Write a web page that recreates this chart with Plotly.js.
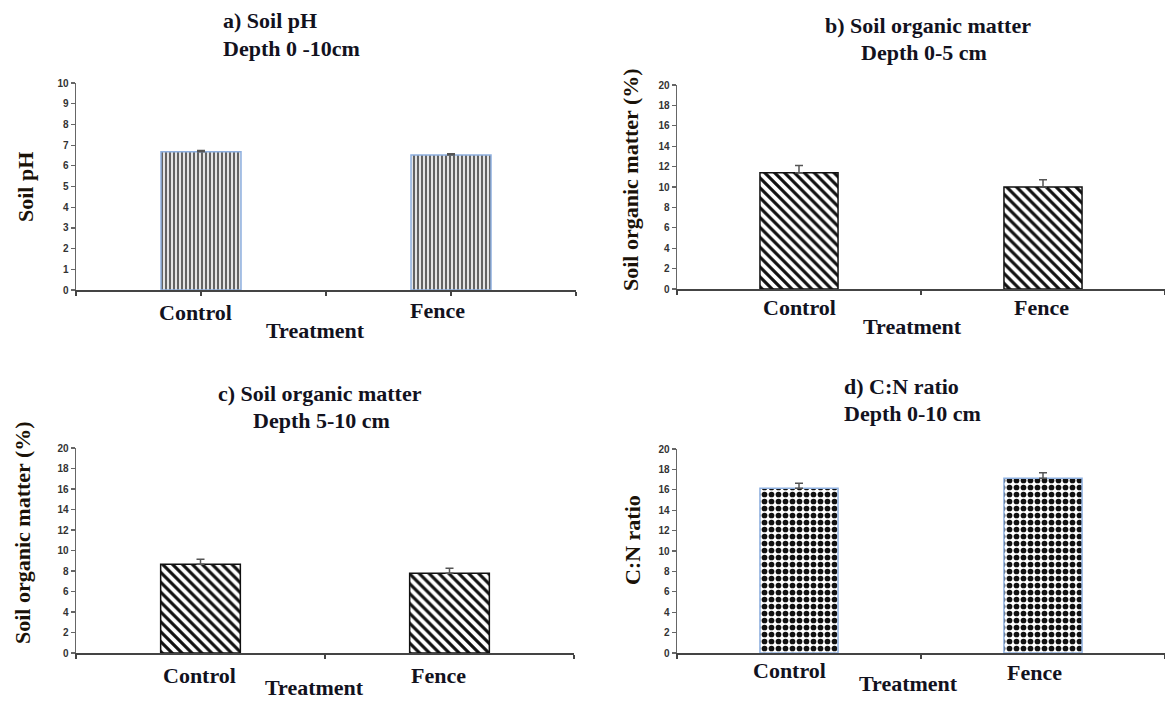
<!DOCTYPE html>
<html>
<head>
<meta charset="utf-8">
<script src="https://cdn.plot.ly/plotly-3.0.1.min.js"></script>
<style>html,body{margin:0;padding:0;background:#fff;}#chart{width:1165px;height:701px;}</style>
</head>
<body>
<div id="chart"></div>
<script>
// ---- data ----
const categories = ["Control", "Fence"];
const phValues = [6.68, 6.52];
const phErrors = [0.06, 0.06];
const som05Values = [11.4, 10.0];
const som05Errors = [0.7, 0.7];
const som510Values = [8.65, 7.78];
const som510Errors = [0.5, 0.5];
const cnValues = [16.15, 17.13];
const cnErrors = [0.5, 0.55];
const panelTitles = [
  ["a) Soil pH", "Depth 0 -10cm"],
  ["b) Soil organic matter", "Depth 0-5 cm"],
  ["c) Soil organic matter", "Depth 5-10 cm"],
  ["d) C:N ratio", "Depth 0-10 cm"]
];
const yTitles = ["Soil pH", "Soil organic matter (%)", "Soil organic matter (%)", "C:N ratio"];
const xTitle = "Treatment";

// ---- layout helpers ----
const W = 1165, H = 701;
const fx = p => p / W;
const fy = p => 1 - p / H;
const serif = "Liberation Serif, Times New Roman, serif";
const txtCol = "#12121e";
const catPos = categories.map((c, i) => i);

const panels = [
  {vals: phValues, errs: phErrors, ymax: 10, dtick: 1, x0: 76, x1: 576, ytop: 83, ybot: 290,
   pattern: {shape: "|", fgcolor: "#3a3a3a", bgcolor: "#e4e4e4", size: 4, solidity: 0.38},
   line: "#8eb0e0", xticks: [-0.5, 0, 0.5, 1, 1.5],
   title: {l1: [221, 20], l2: [221, 48], anchor: "left"},
   ytitle: [26, 187], labels: [[195, 312], [437, 310]], xt: [315, 330]},
  {vals: som05Values, errs: som05Errors, ymax: 20, dtick: 2, x0: 677, x1: 1165, ytop: 85, ybot: 289,
   pattern: {shape: "\\", fgcolor: "#111", bgcolor: "#fff", size: 7, solidity: 0.45},
   line: "#111", xticks: [-0.5, 0.5, 1.5],
   title: {l1: [928, 25], l2: [924, 53], anchor: "center"},
   ytitle: [630, 180], labels: [[799, 308], [1041, 307]], xt: [912, 326]},
  {vals: som510Values, errs: som510Errors, ymax: 20, dtick: 2, x0: 76, x1: 574, ytop: 448, ybot: 653,
   pattern: {shape: "\\", fgcolor: "#111", bgcolor: "#fff", size: 7, solidity: 0.45},
   line: "#111", xticks: [-0.5, 0.5, 1.5],
   title: {l1: [320, 393], l2: [321, 420], anchor: "center"},
   ytitle: [22, 533], labels: [[199, 675], [438, 675]], xt: [314, 687]},
  {vals: cnValues, errs: cnErrors, ymax: 20, dtick: 2, x0: 677, x1: 1165, ytop: 449, ybot: 653,
   pattern: {shape: ".", fgcolor: "#111", bgcolor: "#fff", size: 7, solidity: 0.52},
   line: "#8eb0e0", xticks: [-0.5, 0.5, 1.5],
   title: {l1: [842, 386], l2: [842, 413], anchor: "left"},
   ytitle: [632, 540], labels: [[789, 670], [1034, 672]], xt: [908, 683]}
];

const traces = [];
const layout = {
  width: W, height: H,
  margin: {l: 0, r: 0, t: 0, b: 0},
  paper_bgcolor: "#fff", plot_bgcolor: "#fff",
  showlegend: false,
  annotations: []
};

panels.forEach((p, i) => {
  const n = i + 1;
  const xa = n === 1 ? "x" : "x" + n;
  const ya = n === 1 ? "y" : "y" + n;
  traces.push({
    type: "bar", x: catPos, y: p.vals, xaxis: xa, yaxis: ya, width: 0.32,
    hovertext: categories,
    marker: {color: p.pattern.bgcolor, pattern: p.pattern, line: {color: p.line, width: 1.5}},
    error_y: {type: "data", symmetric: false, array: p.errs, arrayminus: p.errs.map(() => 0),
              color: "#555", thickness: 1.5, width: 4},
    hoverinfo: "skip"
  });
  const xk = n === 1 ? "xaxis" : "xaxis" + n;
  const yk = n === 1 ? "yaxis" : "yaxis" + n;
  layout[xk] = {
    domain: [fx(p.x0), fx(p.x1)], anchor: ya, type: "linear",
    range: [-0.5, 1.5], tickmode: "array", tickvals: p.xticks, showticklabels: false,
    showgrid: false, zeroline: false,
    showline: true, linecolor: "#444", linewidth: 2,
    ticks: "outside", ticklen: 4, tickcolor: "#444", tickwidth: 1.5,
    fixedrange: true
  };
  layout[yk] = {
    domain: [fy(p.ybot), fy(p.ytop)], anchor: xa, range: [0, p.ymax], dtick: p.dtick,
    showgrid: false, zeroline: false, showline: true, linecolor: "#666", linewidth: 1.5,
    ticks: "outside", ticklen: 4, tickcolor: "#666", tickwidth: 1.2,
    tickfont: {family: "Liberation Sans, Arial, sans-serif", size: 10, color: "#333", weight: "bold"},
    fixedrange: true
  };
  // titles
  const tf = {family: serif, size: 22, color: txtCol, weight: "bold"};
  [[panelTitles[i][0], p.title.l1], [panelTitles[i][1], p.title.l2]].forEach(([t, pos]) => {
    layout.annotations.push({text: t, xref: "paper", yref: "paper", x: fx(pos[0]), y: fy(pos[1]),
      xanchor: p.title.anchor, yanchor: "middle", showarrow: false, font: tf});
  });
  // y title
  layout.annotations.push({text: yTitles[i], xref: "paper", yref: "paper", x: fx(p.ytitle[0]), y: fy(p.ytitle[1]),
    xanchor: "center", yanchor: "middle", textangle: -90, showarrow: false,
    font: {family: serif, size: 22, color: "#1a1208", weight: "bold"}});
  // category labels
  categories.forEach((c, k) => {
    layout.annotations.push({text: c, xref: "paper", yref: "paper", x: fx(p.labels[k][0]), y: fy(p.labels[k][1]),
      xanchor: "center", yanchor: "middle", showarrow: false, font: {family: serif, size: 22, color: txtCol, weight: "bold"}});
  });
  // x title
  layout.annotations.push({text: xTitle, xref: "paper", yref: "paper", x: fx(p.xt[0]), y: fy(p.xt[1]),
    xanchor: "center", yanchor: "middle", showarrow: false, font: {family: serif, size: 22, color: txtCol, weight: "bold"}});
});

Plotly.newPlot("chart", traces, layout, {staticPlot: true, displayModeBar: false});
</script>
</body>
</html>
